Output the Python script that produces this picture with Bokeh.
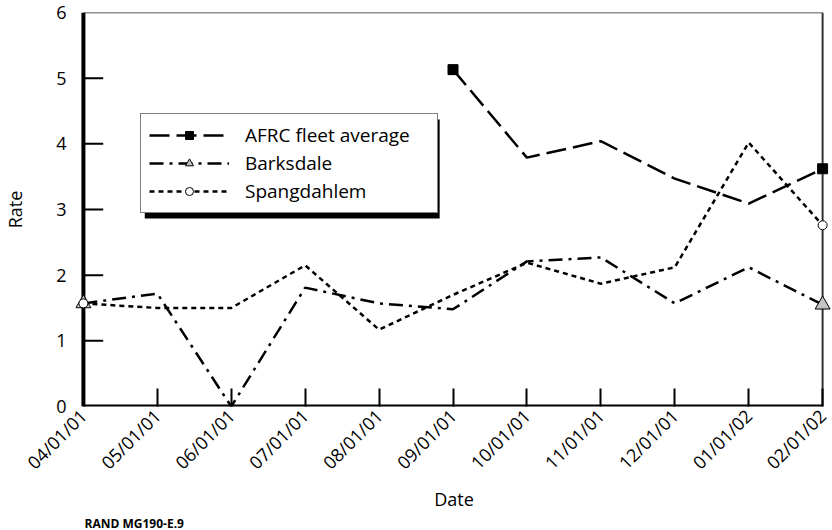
import math
import numpy as np
from bokeh.plotting import figure
from bokeh.models import (Range1d, LinearAxis, FixedTicker, Legend, LegendItem,
                          BoxAnnotation, Title)
from bokeh.embed import file_html
from bokeh.resources import INLINE

# ---- data ----
dates = ["04/01/01", "05/01/01", "06/01/01", "07/01/01", "08/01/01", "09/01/01",
         "10/01/01", "11/01/01", "12/01/01", "01/01/02", "02/01/02"]
afrc = [np.nan, np.nan, np.nan, np.nan, np.nan, 5.13, 3.79, 4.04, 3.47, 3.09, 3.62]
barksdale = [1.57, 1.72, 0.0, 1.81, 1.57, 1.48, 2.21, 2.27, 1.57, 2.12, 1.55]
spangdahlem = [1.57, 1.50, 1.50, 2.15, 1.17, 1.70, 2.19, 1.87, 2.12, 4.02, 2.76]
y_ticks = [0, 1, 2, 3, 4, 5, 6]
x_label = "Date"
y_label = "Rate"
series_names = ["AFRC fleet average", "Barksdale", "Spangdahlem"]
source_text = "RAND MG190-E.9"

FONT = "Open Sans"
xi = list(range(len(dates)))
n = len(dates)

# ---- pixel layout ----
W, H = 832, 530
X0_PX, X1_PX = 75, 822          # where first/last date sit
Y0_PX, Y1_PX = 406, 12          # where y=0 / y=6 sit
ML = X0_PX - 8
MR = 0
MT = Y1_PX
MB = H - Y0_PX
ppx = (X1_PX - X0_PX) / (n - 1)
ppy = (Y0_PX - Y1_PX) / (y_ticks[-1] - y_ticks[0])
x_lo = -(X0_PX - ML) / ppx
x_hi = (n - 1) + (W - MR - X1_PX) / ppx

def dx(px):
    return (px - X0_PX) / ppx

def dy(py):
    return y_ticks[0] + (Y0_PX - py) / ppy

p = figure(width=W, height=H, output_backend="svg", toolbar_location=None,
           x_range=Range1d(x_lo, x_hi), y_range=Range1d(y_ticks[0], y_ticks[-1]),
           x_axis_type=None, y_axis_type=None,
           min_border_left=ML, min_border_right=MR, min_border_top=MT, min_border_bottom=MB)
p.outline_line_color = None
p.grid.visible = False
p.background_fill_color = "white"
p.border_fill_color = "white"

# y axis: labels only (line and ticks drawn at x = first date)
yax = LinearAxis(ticker=FixedTicker(ticks=y_ticks))
yax.axis_line_color = None
yax.major_tick_line_color = None
yax.minor_tick_line_color = None
yax.major_label_text_font = FONT
yax.major_label_text_font_size = "18px"
yax.major_label_text_color = "black"
yax.major_label_standoff = 3
yax.axis_label = y_label
yax.axis_label_text_font = FONT
yax.axis_label_text_font_size = "18px"
yax.axis_label_text_font_style = "normal"
yax.axis_label_text_color = "black"
yax.axis_label_standoff = 26
p.add_layout(yax, "left")

xax = LinearAxis(ticker=FixedTicker(ticks=xi))
xax.major_label_overrides = {i: d for i, d in enumerate(dates)}
xax.major_label_orientation = math.pi / 4
xax.axis_line_color = None
xax.major_tick_in = 18
xax.major_tick_out = 0
xax.major_tick_line_width = 2
xax.major_tick_line_color = "black"
xax.minor_tick_line_color = None
xax.major_label_text_font = FONT
xax.major_label_text_font_size = "18px"
xax.major_label_text_color = "black"
xax.major_label_standoff = 6
xax.axis_label = x_label
xax.axis_label_text_font = FONT
xax.axis_label_text_font_size = "18px"
xax.axis_label_text_font_style = "normal"
xax.axis_label_text_color = "black"
xax.axis_label_standoff = 2
p.add_layout(xax, "below")

src = Title(text=source_text, align="left", offset=9, standoff=-4,
            text_font=FONT, text_font_size="12px", text_font_style="bold", text_color="black")
p.add_layout(src, "below")

# frame lines and inward y ticks
p.segment(x0=[xi[0]], y0=[y_ticks[0]], x1=[xi[-1]], y1=[y_ticks[0]], line_color="black", line_width=4)
p.segment(x0=[xi[0]], y0=[y_ticks[0]], x1=[xi[0]], y1=[y_ticks[-1]], line_color="black", line_width=4)
p.segment(x0=[xi[0]], y0=[y_ticks[-1]], x1=[xi[-1]], y1=[y_ticks[-1]], line_color="#222222", line_width=1.5)
p.segment(x0=[xi[-1]], y0=[y_ticks[0]], x1=[xi[-1]], y1=[y_ticks[-1]], line_color="#333333", line_width=2)
tick_len = 20 / ppx
p.segment(x0=[xi[0]] * len(y_ticks[1:-1]), y0=y_ticks[1:-1],
          x1=[xi[0] + tick_len] * len(y_ticks[1:-1]), y1=y_ticks[1:-1],
          line_color="black", line_width=2)

def endpoints(vals):
    idx = [i for i, v in enumerate(vals) if not np.isnan(v)]
    return [idx[0], idx[-1]], [vals[idx[0]], vals[idx[-1]]]

styles = [
    dict(vals=afrc, dash="20 7", marker="square", size=10, fill="black"),
    dict(vals=barksdale, dash="14 6 3 6", marker="triangle", size=15, fill="#c4c4c4"),
    dict(vals=spangdahlem, dash="5 4", marker="circle", size=9, fill="white"),
]
items = []
for name, st in zip(series_names, styles):
    ln = p.line(xi, st["vals"], line_color="black", line_width=2.5, line_dash=st["dash"])
    ex, ey = endpoints(st["vals"])
    sc = p.scatter(ex, ey, marker=st["marker"], size=st["size"], fill_color=st["fill"],
                   line_color="black", line_width=1)
    items.append(LegendItem(label=name, renderers=[ln, sc]))

# legend box (page px): 132..430 x 114..213, shadow offset 5 px
LG_L, LG_T, LG_R, LG_B = 132, 114, 430, 213
shadow = BoxAnnotation(left=dx(LG_L + 5), right=dx(LG_R + 5), top=dy(LG_T + 5), bottom=dy(LG_B + 5),
                       fill_color="black", fill_alpha=1.0, line_color=None)
p.add_layout(shadow)

legend = Legend(items=items, location=(LG_L - ML, Y0_PX - LG_B))
legend.label_text_font = FONT
legend.label_text_font_size = "19px"
legend.label_text_color = "black"
legend.glyph_width = 80
legend.glyph_height = 20
legend.spacing = 2
legend.padding = 8
legend.margin = 0
legend.label_standoff = 16
legend.label_width = 184
legend.border_line_color = "black"
legend.border_line_width = 1
legend.background_fill_color = "white"
legend.background_fill_alpha = 1.0
p.add_layout(legend, "center")

open("out.html", "w").write(file_html(p, INLINE))
